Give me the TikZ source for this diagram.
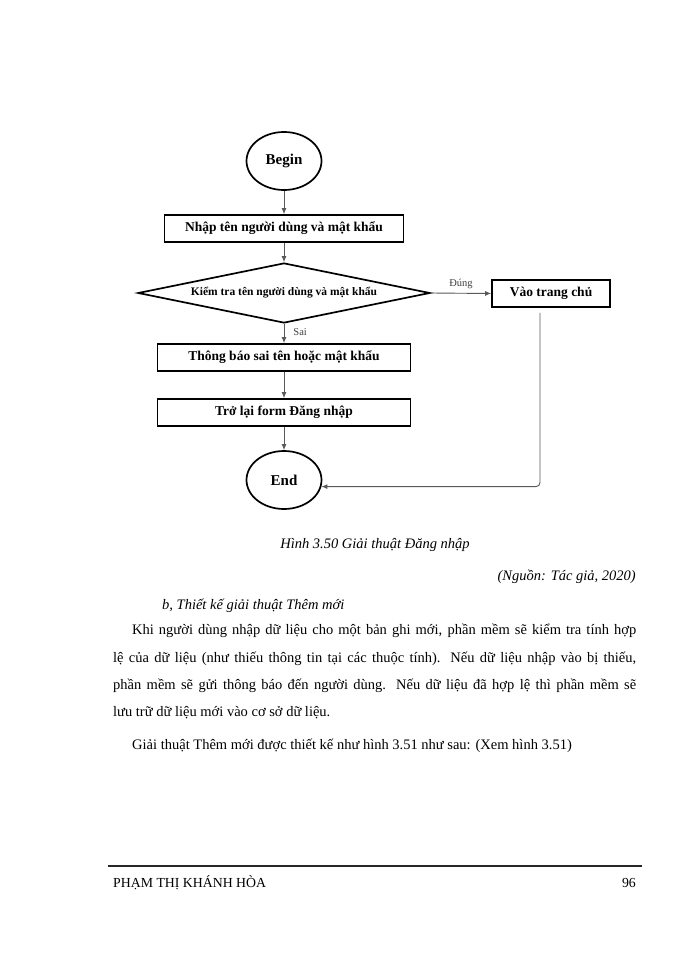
\documentclass[tikz,border=0pt]{standalone}
\usepackage{fontspec}
\setmainfont{Liberation Serif}
\usetikzlibrary{shapes.geometric,arrows.meta}
\tikzset{
  term/.style={ellipse,draw=black,line width=1.7pt,minimum width=75pt,minimum height=58pt,inner sep=0pt,font=\fontsize{15}{18}\selectfont\bfseries},
  procbox/.style={rectangle,draw=black,line width=1.7pt,minimum height=27pt,inner sep=0pt,font=\fontsize{13.5}{16}\selectfont\bfseries},
  decide/.style={diamond,draw=black,line width=1.7pt,shape aspect=5,minimum width=292pt,minimum height=60pt,inner sep=0pt,font=\fontsize{11.5}{14}\selectfont\bfseries},
  conn/.style={draw=black!65,line width=0.9pt,-{Latex[length=6pt,width=5pt]}},
  lbl/.style={font=\fontsize{10.5}{12}\selectfont,text=black!75,inner sep=1pt},
  bodytxt/.style={font=\fontsize{14.5}{17}\selectfont,inner sep=0pt},
  bodyit/.style={font=\fontsize{14.5}{17}\selectfont\itshape,inner sep=0pt},
}
\begin{document}
\begin{tikzpicture}[x=1pt,y=-1pt]
\useasboundingbox[fill=white] (0,0) rectangle (700,960);
% flowchart
\node[term] (begin) at (284,161) {Begin};
\node[procbox,minimum width=239pt] (input) at (284,228.5) {Nhập tên người dùng và mật khẩu};
\node[decide] (check) at (284,293) {Kiểm tra tên người dùng và mật khẩu};
\node[procbox,minimum width=118pt] (home) at (551,293.5) {Vào trang chủ};
\node[procbox,minimum width=253pt] (msg) at (284,357.5) {Thông báo sai tên hoặc mật khẩu};
\node[procbox,minimum width=253pt] (back) at (284,412.5) {Trở lại form Đăng nhập};
\node[term] (end) at (284,480) {End};
\draw[conn] (begin) -- (input);
\draw[conn] (input) -- (check.north);
\draw[conn] (check.east) -- node[lbl,pos=0.5,above=3pt] (dung) {Đúng} (home.west);
\draw[conn] (check.south) -- node[lbl,right=8pt,pos=0.45] (sai) {Sai} (msg.north);
\draw[conn] (msg) -- (back);
\draw[conn] (back) -- (end);
\coordinate (hs) at ([xshift=-11pt,yshift=-5pt]home.south);
\draw[conn,rounded corners=4pt] (hs) |- (end.-10);
% text
\node[bodyit] (cap) at (375,545) {Hình 3.50 Giải thuật Đăng nhập};
\node[bodyit,anchor=east] (src) at (636,577) {(Nguồn: Tác giả, 2020)};
\node[bodyit,anchor=west] (sub) at (162,606) {b, Thiết kế giải thuật Thêm mới};
\node[bodytxt,anchor=north west,text width=523pt,align=justify,font=\fontsize{14.5}{27.3}\selectfont] (para) at (113,624) {\hspace*{19pt}Khi người dùng nhập dữ liệu cho một bản ghi mới, phần mềm sẽ kiểm tra tính hợp\linebreak lệ của dữ liệu (như thiếu thông tin tại các thuộc tính). Nếu dữ liệu nhập vào bị thiếu,\linebreak phần mềm sẽ gửi thông báo đến người dùng. Nếu dữ liệu đã hợp lệ thì phần mềm sẽ\linebreak lưu trữ dữ liệu mới vào cơ sở dữ liệu.};
\node[bodytxt,anchor=west] (alg) at (132,746) {Giải thuật Thêm mới được thiết kế như hình 3.51 như sau: (Xem hình 3.51)};
% footer
\coordinate (fl) at (108,866);
\coordinate (fr) at (642,866);
\draw[line width=2.2pt,black!85] (fl) -- (fr);
\node[bodytxt,font=\fontsize{13.8}{16}\selectfont,anchor=west] (author) at (113,883) {PHẠM THỊ KHÁNH HÒA};
\node[bodytxt,font=\fontsize{13.8}{16}\selectfont,anchor=east] (page) at (636,883) {96};
\end{tikzpicture}
\end{document}
